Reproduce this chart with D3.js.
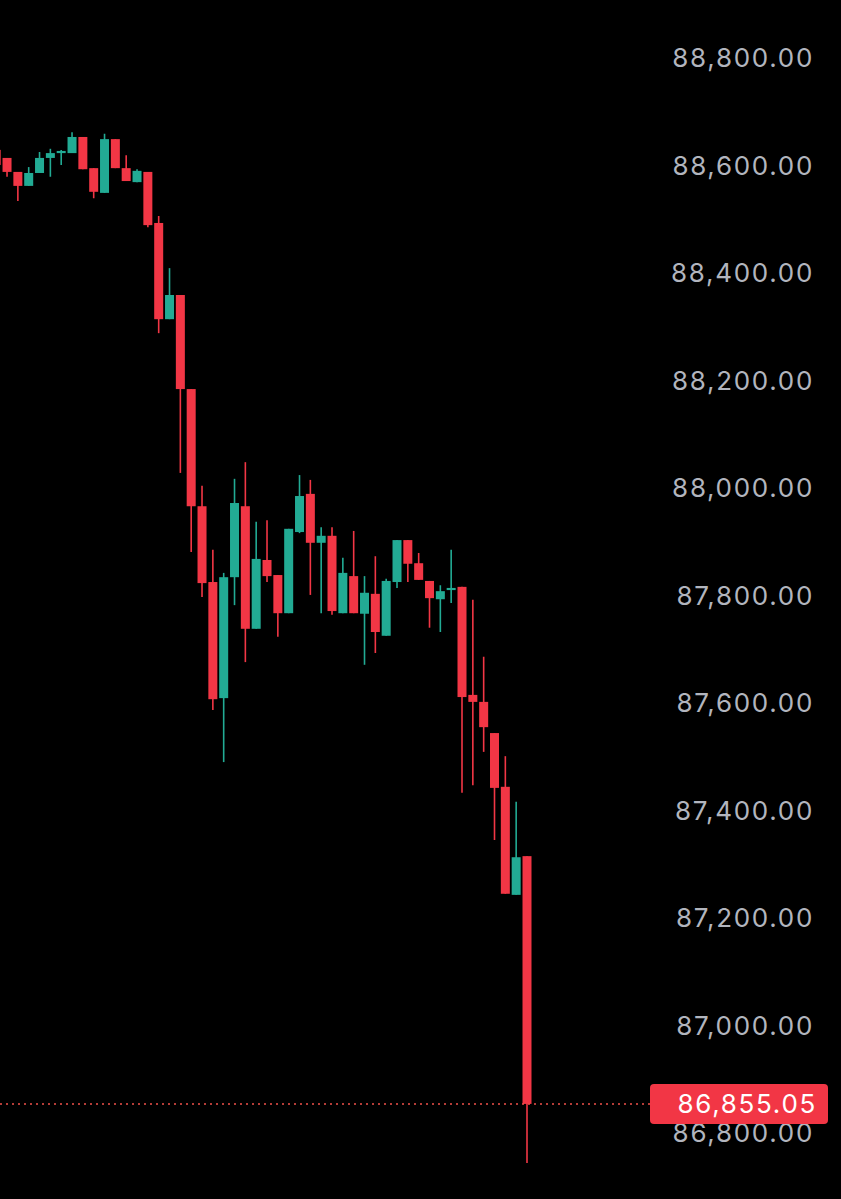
<!DOCTYPE html>
<html>
<head>
<meta charset="utf-8">
<script src="https://cdn.jsdelivr.net/npm/d3@7"></script>
<style>
	body { margin: 0; background: #000; }
	#chart { display: block; background: #000; }
	.axis-right text { fill: #b2b5be; font-family: Inter, "Noto Sans", sans-serif; font-size: 26px; letter-spacing: 1.7px; }
</style>
</head>
<body>
<svg id="chart"></svg>
<script>
// candle data, oldest first (left edge candle is cut off)
let opens  = [88630, 88615, 88589, 88563, 88587, 88615, 88624, 88624, 88654, 88596,
	88550, 88650, 88596, 88570, 88589, 88494, 88315, 88360, 88185, 87967,
	87826, 87610, 87835, 87967, 87739, 87867, 87839, 87768, 87919, 87990,
	87899, 87912, 87768, 87837, 87767, 87804, 87726, 87826, 87904, 87861,
	87828, 87794, 87811, 87817, 87616, 87603, 87545, 87445, 87244, 87316];
let highs  = [88639, 88615, 88589, 88598, 88626, 88632, 88630, 88663, 88654, 88596,
	88660, 88650, 88620, 88594, 88589, 88507, 88410, 88360, 88185, 88005,
	87886, 87843, 88018, 88049, 87938, 87941, 87839, 87925, 88025, 88016,
	87928, 87928, 87871, 87921, 87837, 87874, 87832, 87904, 87904, 87880,
	87828, 87820, 87886, 87817, 87793, 87687, 87545, 87502, 87417, 87316];
let lows   = [88593, 88580, 88535, 88563, 88587, 88580, 88602, 88624, 88594, 88540,
	88550, 88596, 88572, 88570, 88486, 88289, 88315, 88029, 87882, 87798,
	87588, 87491, 87783, 87677, 87739, 87826, 87724, 87768, 87917, 87802,
	87768, 87765, 87768, 87768, 87672, 87694, 87726, 87815, 87826, 87830,
	87741, 87733, 87787, 87434, 87448, 87510, 87346, 87246, 87244, 86745];
let closes = [88602, 88589, 88563, 88587, 88615, 88624, 88628, 88654, 88594, 88552,
	88650, 88596, 88572, 88591, 88490, 88315, 88360, 88185, 87967, 87824,
	87608, 87835, 87973, 87739, 87869, 87837, 87768, 87925, 87986, 87899,
	87912, 87772, 87843, 87768, 87806, 87733, 87828, 87904, 87860, 87830,
	87796, 87809, 87815, 87612, 87603, 87556, 87443, 87246, 87314, 86855.05];

let tickValues = [88800, 88600, 88400, 88200, 88000, 87800, 87600, 87400, 87200, 87000, 86800];
let lastPrice = 86855.05;

let upColor = '#22ab94';
let downColor = '#f23645';

let w = 841, h = 1199;

let dataset = opens.map((o, i) => ({
	i: i,
	open: o,
	high: highs[i],
	low: lows[i],
	close: closes[i]
}));

let chart = d3.select('#chart')
	.attr('width', w)
	.attr('height', h);

let xScale = d3.scaleLinear()
	.domain([0, dataset.length - 1])
	.range([-3.8, 527]);

let yScale = d3.scaleLinear()
	.domain([86800, 88800])
	.range([1133.5, 58.5]);

let bodyW = 9;

// axis labels on the right
let yAxis = d3.axisRight(yScale)
	.tickValues(tickValues)
	.tickFormat(d3.format(',.2f'))
	.tickSize(0);

let yAxisGroup = chart.append('g')
	.attr('class', 'axis-right')
	.attr('transform', 'translate(814,0)')
	.call(yAxis);
yAxisGroup.select('.domain').remove();
yAxisGroup.selectAll('text')
	.attr('x', 0)
	.attr('dy', '0.32em')
	.attr('text-anchor', 'end');

// candles
let candles = chart.append('g').selectAll('g.candle')
	.data(dataset)
	.enter()
	.append('g')
	.attr('class', 'candle');

candles.append('line')
	.attr('x1', d => xScale(d.i))
	.attr('x2', d => xScale(d.i))
	.attr('y1', d => yScale(d.high))
	.attr('y2', d => yScale(d.low))
	.attr('stroke', d => d.close >= d.open ? upColor : downColor)
	.attr('stroke-width', 1.6);

candles.append('rect')
	.attr('x', d => xScale(d.i) - bodyW / 2)
	.attr('width', bodyW)
	.attr('y', d => yScale(Math.max(d.open, d.close)))
	.attr('height', d => Math.max(1.5, Math.abs(yScale(d.open) - yScale(d.close))))
	.attr('fill', d => d.close >= d.open ? upColor : downColor);

// last price line + label
chart.append('line')
	.attr('x1', 0)
	.attr('x2', 650)
	.attr('y1', yScale(lastPrice))
	.attr('y2', yScale(lastPrice))
	.attr('stroke', '#f0504a')
	.attr('stroke-width', 1.5)
	.style('stroke-dasharray', '2,4');

chart.append('rect')
	.attr('x', 650)
	.attr('y', yScale(lastPrice) - 20)
	.attr('width', 178)
	.attr('height', 40)
	.attr('rx', 4)
	.attr('fill', downColor);

chart.append('text')
	.attr('x', 817)
	.attr('y', yScale(lastPrice))
	.attr('dy', '0.35em')
	.attr('text-anchor', 'end')
	.style('font-family', 'Inter, "Noto Sans", sans-serif')
	.style('font-size', '26px')
	.style('letter-spacing', '1.7px')
	.attr('fill', '#fff')
	.text(d3.format(',.2f')(lastPrice));
</script>
</body>
</html>
